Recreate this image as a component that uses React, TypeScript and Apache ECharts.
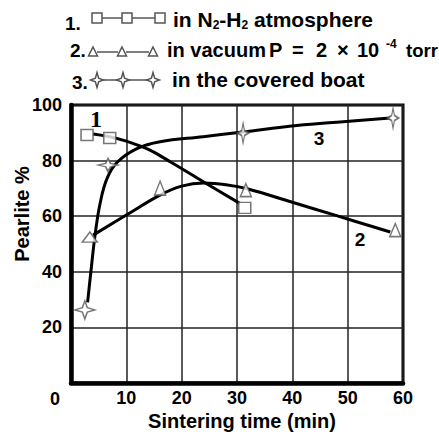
import React, { useEffect, useRef } from 'react';
import * as echarts from 'echarts';

// Axis ticks
const xTicks = [0, 10, 20, 30, 40, 50, 60];
const yTicks = [0, 20, 40, 60, 80, 100];

// Measured points (markers)
const squareX = [2.9, 7.0, 31.4];
const squareY = [89.2, 88.1, 63.0];
const triangleX = [3.4, 16.1, 31.6, 58.6];
const triangleY = [52.5, 70.1, 69.4, 55.0];
const starX = [2.5, 6.7, 31.1, 58.2];
const starY = [26.3, 78.4, 89.9, 95.3];

// Fitted curves
const curve1X = [4.0, 7.0, 10.0, 14.0, 18.0, 24.0, 30.5];
const curve1Y = [89.6, 88.6, 87.0, 84.0, 79.5, 72.3, 64.6];
const curve2X = [4.0, 10.0, 16.0, 20.0, 24.0, 28.0, 32.0, 40.0, 48.0, 57.7];
const curve2Y = [53.2, 60.4, 67.5, 70.8, 71.9, 71.3, 69.8, 65.0, 60.2, 54.3];
const curve3X = [3.0, 3.7, 4.4, 5.3, 6.5, 8.3, 11.9, 16.1, 23.9, 31.1, 40.8, 49.2, 57.7];
const curve3Y = [29.0, 42.0, 54.0, 65.0, 73.5, 79.3, 84.3, 86.8, 88.6, 90.3, 92.6, 94.0, 95.3];

// Texts
const legendNumbers = ['1.', '2.', '3.'];
const legendRow1 = '{a|in N}{s|2}{a|-H}{s|2}{a| atmosphere}';
const legendRow2Parts = ['in vacuum', 'P', '=', '2', '×', '10', '-4', 'torr'];
const legendRow3 = 'in the covered boat';
const curveLabels = ['1', '2', '3'];
const xName = 'Sintering time (min)';
const yName = 'Pearlite %';

// styles
const FONT = 'Liberation Sans';
const MARK = '#555';
const starSizes = [[20, 18], [20, 13], [11, 20], [11, 20]];
const triSizes = [[15, 10], [11, 14], [11, 13], [11, 13]];
const row2X = [167, 269, 292, 316, 337, 357, 386, 406];

const pair = (xs: number[], ys: number[]) => xs.map((x, i) => [x, ys[i]]);

function starPoints(cx: number, cy: number, rx: number, ry: number) {
  const k = 0.25;
  return [
    [cx, cy - ry], [cx + rx * k, cy - ry * k], [cx + rx, cy], [cx + rx * k, cy + ry * k],
    [cx, cy + ry], [cx - rx * k, cy + ry * k], [cx - rx, cy], [cx - rx * k, cy - ry * k],
  ];
}

function txt(x: number, y: number, text: string, fontSize: number, extra: any = {}) {
  return {
    type: 'text', x, y,
    style: { text, fontFamily: FONT, fontWeight: 'bold', fontSize, fill: '#000', align: 'left', verticalAlign: 'middle', ...extra },
  };
}

function legendGraphics() {
  const els: any[] = [];
  const lineStyle = { stroke: MARK, lineWidth: 1.5 };
  const shapeStyle = { fill: '#fff', stroke: MARK, lineWidth: 1.5 };
  // row 1 squares
  const r1 = [97, 127, 160];
  const y1 = 18;
  for (let i = 0; i < r1.length - 1; i++)
    els.push({ type: 'line', shape: { x1: r1[i] + 5, y1, x2: r1[i + 1] - 5, y2: y1 }, style: lineStyle });
  r1.forEach((cx) => els.push({ type: 'rect', shape: { x: cx - 5, y: y1 - 5, width: 10, height: 10 }, style: shapeStyle }));
  // row 2 triangles
  const r2 = [93, 122, 153];
  const y2 = 52;
  for (let i = 0; i < r2.length - 1; i++)
    els.push({ type: 'line', shape: { x1: r2[i] + 4, y1: y2, x2: r2[i + 1] - 4, y2 }, style: lineStyle });
  r2.forEach((cx) => els.push({ type: 'polygon', shape: { points: [[cx, y2 - 5], [cx + 4.5, y2 + 4], [cx - 4.5, y2 + 4]] }, style: shapeStyle }));
  // row 3 stars
  const r3 = [97, 123, 153];
  const y3 = 80;
  for (let i = 0; i < r3.length - 1; i++)
    els.push({ type: 'line', shape: { x1: r3[i] + 5, y1: y3, x2: r3[i + 1] - 5, y2: y3 }, style: lineStyle });
  r3.forEach((cx) => els.push({ type: 'polygon', shape: { points: starPoints(cx, y3, 6.5, 7.5) }, style: shapeStyle }));

  const numPos = [[65, 23], [70, 50], [72, 82]];
  legendNumbers.forEach((t, i) => els.push(txt(numPos[i][0], numPos[i][1], t, 19)));

  // row 1 with subscripts
  const base = { fontFamily: FONT, fontWeight: 'bold', fill: '#000' };
  const rich: any = {
    a: { ...base, fontSize: 21, lineHeight: 24 },
    s: { ...base, fontSize: 12, lineHeight: 12, verticalAlign: 'bottom' },
  };
  els.push({ type: 'text', x: 173, y: 19, style: { text: legendRow1, rich, align: 'left', verticalAlign: 'middle' } });

  // row 2 pieces
  legendRow2Parts.forEach((t, i) => {
    if (t === '-4') els.push(txt(row2X[i], 44, t, 12));
    else if (t === 'torr') els.push(txt(row2X[i], 50, t, 18.5));
    else els.push(txt(row2X[i], 50, t, 20));
  });

  // row 3
  els.push(txt(172, 79, legendRow3, 21));
  return els;
}

export default function App() {
  const ref = useRef<HTMLDivElement>(null);
  useEffect(() => {
    if (!ref.current) return;
    const chart = echarts.init(ref.current, undefined, { renderer: 'svg' });
    const labelPos = [[96, 119, 'Liberation Serif', 24], [360, 239, FONT, 19], [319, 138, FONT, 19]];
    const lineSeries = (xs: number[], ys: number[]) => ({
      type: 'line', data: pair(xs, ys), smooth: 0.4, showSymbol: false, symbol: 'none',
      lineStyle: { color: '#000', width: 3 }, z: 3,
    });
    chart.setOption({
      animation: false,
      textStyle: { fontFamily: FONT },
      grid: { left: 71, top: 105, width: 332, height: 278, show: true, borderColor: '#000', borderWidth: 3, backgroundColor: 'transparent' },
      xAxis: {
        type: 'value',
        min: xTicks[0],
        max: xTicks[xTicks.length - 1],
        interval: xTicks[1] - xTicks[0],
        axisLine: { show: true, onZero: false, lineStyle: { color: '#000', width: 4.5 } },
        axisTick: { show: false },
        splitLine: { show: true, lineStyle: { color: '#222', width: 1.5 } },
        axisLabel: {
          color: '#000', fontSize: 18, fontWeight: 'bold', margin: 6, lineHeight: 18,
          formatter: (v: number) => (v === 0 ? '{z|0}' : String(v)),
          rich: { z: { fontSize: 18, fontWeight: 'bold', color: '#000', lineHeight: 18, padding: [2, 32, 0, 0] } },
        },
      },
      yAxis: {
        type: 'value',
        min: yTicks[0],
        max: yTicks[yTicks.length - 1],
        interval: yTicks[1] - yTicks[0],
        axisLine: { show: true, onZero: false, lineStyle: { color: '#000', width: 4.5 } },
        axisTick: { show: false },
        splitLine: { show: true, lineStyle: { color: '#222', width: 1.5 } },
        axisLabel: { color: '#000', fontSize: 18, fontWeight: 'bold', margin: 9, formatter: (v: number) => (v === 0 ? '' : String(v)) },
      },
      series: [
        lineSeries(curve1X, curve1Y),
        lineSeries(curve2X, curve2Y),
        lineSeries(curve3X, curve3Y),
        { type: 'scatter', data: pair(squareX, squareY), symbol: 'rect', symbolSize: [12, 11], itemStyle: { color: '#fff', borderColor: MARK, borderWidth: 1.5 }, z: 4 },
        { type: 'scatter', data: pair(triangleX, triangleY), symbol: 'triangle', symbolSize: (_v: any, p: any) => triSizes[p.dataIndex], itemStyle: { color: '#fff', borderColor: MARK, borderWidth: 1.5 }, z: 4 },
        { type: 'scatter', data: pair(starX, starY), symbol: 'path://M10,0 L12.5,7.5 L20,10 L12.5,12.5 L10,20 L7.5,12.5 L0,10 L7.5,7.5 Z', symbolSize: (_v: any, p: any) => starSizes[p.dataIndex], itemStyle: { color: '#fff', borderColor: MARK, borderWidth: 1.5 }, z: 4 },
      ],
      graphic: [
        ...legendGraphics(),
        ...curveLabels.map((t, i) => ({
          type: 'text', x: labelPos[i][0], y: labelPos[i][1], z: 10,
          style: { text: t, fontFamily: labelPos[i][2], fontWeight: 'bold', fontSize: labelPos[i][3], fill: '#000', align: 'center', verticalAlign: 'middle' },
        })),
        { type: 'text', x: 242, y: 421, style: { text: xName, fontFamily: FONT, fontWeight: 'bold', fontSize: 20, fill: '#000', align: 'center', verticalAlign: 'middle' } },
        { type: 'text', x: 22, y: 214, rotation: Math.PI / 2, style: { text: yName, fontFamily: FONT, fontWeight: 'bold', fontSize: 20, fill: '#000', align: 'center', verticalAlign: 'middle' } },
      ],
    });
    return () => chart.dispose();
  }, []);
  return <div ref={ref} style={{ position: 'absolute', left: 0, top: 0, width: 439, height: 435 }} />;
}
